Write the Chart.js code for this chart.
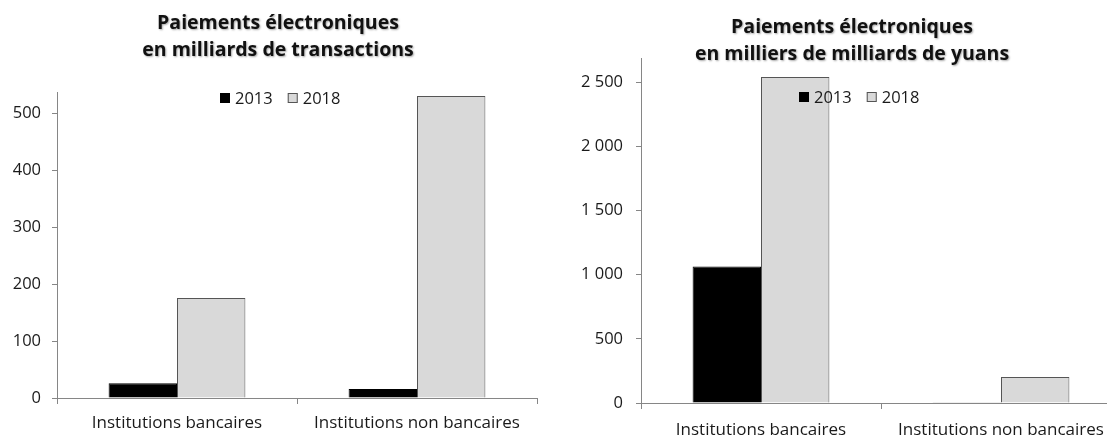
<!DOCTYPE html>
<html lang="fr">
  <head>
    <meta charset="UTF-8" />
    <title>Paiements électroniques</title>
    <script src="https://cdn.jsdelivr.net/npm/chart.js"></script>
    <style>
      html, body {
          margin: 0;
          padding: 0;
          background: #ffffff;
          overflow: hidden;
          width: 1107px;
          height: 438px;
      }
      .wrap {
          position: absolute;
          top: 0;
      }
    </style>
  </head>
  <body>
    <div class="wrap" style="left:0px"><canvas id="txnChart" width="560" height="438"></canvas></div>
    <div class="wrap" style="left:560px"><canvas id="yuanChart" width="561" height="438"></canvas></div>

    <script>
      var categories = ["Institutions bancaires", "Institutions non bancaires"];
      var seriesNames = ["2013", "2018"];

      // milliards de transactions
      var txn2013 = [26, 16];
      var txn2018 = [176, 531];
      var txnTicks = [0, 100, 200, 300, 400, 500];

      // milliers de milliards de yuans
      var yuan2013 = [1065, 5];
      var yuan2018 = [2542, 203];
      var yuanTicks = [0, 500, 1000, 1500, 2000, 2500];

      var txnTitle = ["Paiements électroniques", "en milliards de transactions"];
      var yuanTitle = ["Paiements électroniques", "en milliers de milliards de yuans"];

      var FONT = "'Open Sans', sans-serif";

      function spaced(v) {
        return String(v).replace(/\B(?=(\d{3})+(?!\d))/g, " ");
      }

      // titre en deux lignes + légende dessinée dans la zone du graphique
      var decor = {
        id: "decor",
        afterDraw: function (chart, args, opts) {
          var ctx = chart.ctx;
          ctx.save();
          ctx.fillStyle = "#111";
          ctx.textAlign = "center";
          ctx.textBaseline = "middle";
          ctx.font = "bold 19.5px " + FONT;
          ctx.shadowColor = "rgba(0,0,0,0.35)";
          ctx.shadowBlur = 2;
          ctx.shadowOffsetX = 1;
          ctx.shadowOffsetY = 1;
          opts.lines.forEach(function (line, i) {
            ctx.fillText(line, opts.titleX, opts.titleY[i]);
          });
          ctx.shadowColor = "rgba(0,0,0,0)";

          ctx.font = "16.5px " + FONT;
          ctx.textAlign = "left";
          var x = opts.legendX;
          var y = opts.legendY;
          chart.data.datasets.forEach(function (ds) {
            ctx.fillStyle = ds.backgroundColor;
            ctx.fillRect(x, y - 5, 10, 10);
            if (ds.borderColor !== ds.backgroundColor) {
              ctx.strokeStyle = ds.borderColor;
              ctx.lineWidth = 1;
              ctx.strokeRect(x + 0.5, y - 4.5, 9, 9);
            }
            ctx.fillStyle = "#1a1a1a";
            ctx.fillText(ds.label, x + 15, y + 1);
            x += 15 + ctx.measureText(ds.label).width + 15;
          });
          ctx.restore();
        },
      };

      function makeChart(id, d13, d18, tickValues, cfg) {
        return new Chart(document.getElementById(id).getContext("2d"), {
          type: "bar",
          data: {
            labels: categories,
            datasets: [
              {
                label: seriesNames[0],
                data: d13,
                backgroundColor: "#000000",
                borderColor: "#000000",
                borderWidth: 1,
              },
              {
                label: seriesNames[1],
                data: d18,
                backgroundColor: "#d9d9d9",
                borderColor: "#555555",
                borderWidth: 1,
              },
            ],
          },
          options: {
            responsive: false,
            animation: false,
            devicePixelRatio: 1,
            categoryPercentage: 0.57,
            barPercentage: 1.0,
            layout: {
              padding: { top: cfg.top, right: cfg.right, left: 0, bottom: 0 },
            },
            scales: {
              x: {
                offset: true,
                grid: {
                  offset: true,
                  drawOnChartArea: false,
                  tickLength: 6,
                  color: "#868686",
                },
                border: { color: "#868686" },
                ticks: {
                  color: "#1a1a1a",
                  font: { family: FONT, size: 17 },
                  padding: cfg.xPad,
                  maxRotation: 0,
                  autoSkip: false,
                },
                afterFit: function (scale) {
                  scale.height = cfg.xHeight;
                },
              },
              y: {
                min: 0,
                max: cfg.max,
                ticks: {
                  color: "#1a1a1a",
                  font: { family: FONT, size: 16.5 },
                  padding: cfg.yPad,
                  autoSkip: false,
                  callback: function (v) {
                    return spaced(v);
                  },
                },
                afterBuildTicks: function (scale) {
                  scale.ticks = tickValues.map(function (v) {
                    return { value: v };
                  });
                },
                grid: {
                  drawOnChartArea: false,
                  tickLength: 5,
                  color: "#868686",
                },
                border: { color: "#868686" },
                afterFit: function (scale) {
                  scale.width = cfg.yWidth;
                },
              },
            },
            plugins: {
              legend: { display: false },
              tooltip: { enabled: false },
              decor: cfg.decor,
            },
          },
          plugins: [decor],
        });
      }

      makeChart("txnChart", txn2013, txn2018, txnTicks, {
        top: 92,
        right: 23,
        max: 538,
        yWidth: 57,
        yPad: 11,
        xHeight: 40,
        xPad: 9,
        decor: {
          lines: txnTitle,
          titleX: 278,
          titleY: [23, 50],
          legendX: 220,
          legendY: 98,
        },
      });

      makeChart("yuanChart", yuan2013, yuan2018, yuanTicks, {
        top: 58,
        right: 0,
        max: 2690,
        yWidth: 81,
        yPad: 13,
        xHeight: 35,
        xPad: 11,
        decor: {
          lines: yuanTitle,
          titleX: 292,
          titleY: [27, 54],
          legendX: 239,
          legendY: 97,
        },
      });
    </script>
  </body>
</html>
